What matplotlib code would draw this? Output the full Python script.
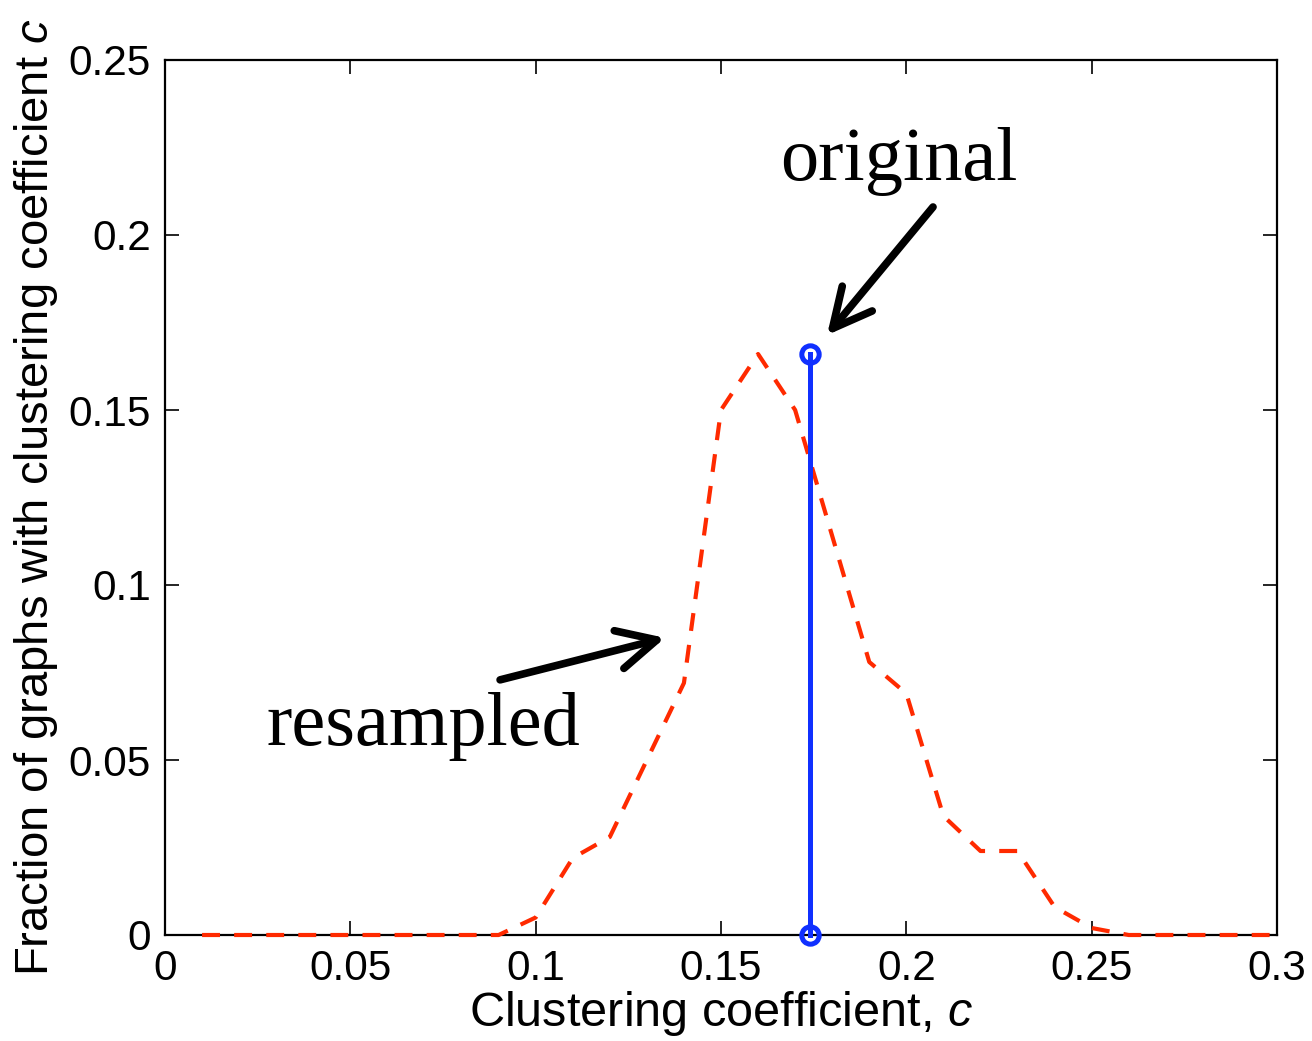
import matplotlib
matplotlib.use("Agg")
import matplotlib.pyplot as plt
from matplotlib import font_manager

# data
c_vals = [0.01, 0.02, 0.03, 0.04, 0.05, 0.06, 0.07, 0.08, 0.09, 0.10,
          0.11, 0.12, 0.13, 0.14, 0.15, 0.16, 0.17, 0.18, 0.19, 0.20,
          0.21, 0.22, 0.23, 0.24, 0.25, 0.26, 0.27, 0.28, 0.29, 0.30]
frac_resampled = [0, 0, 0, 0, 0, 0, 0, 0, 0, 0.005,
                  0.022, 0.028, 0.050, 0.072, 0.150, 0.166, 0.150, 0.114, 0.078, 0.069,
                  0.034, 0.024, 0.024, 0.008, 0.002, 0, 0, 0, 0, 0]
c_original = 0.174
frac_original = 0.166

xticks = [0, 0.05, 0.1, 0.15, 0.2, 0.25, 0.3]
xtick_labels = ["0", "0.05", "0.1", "0.15", "0.2", "0.25", "0.3"]
yticks = [0, 0.05, 0.1, 0.15, 0.2, 0.25]
ytick_labels = ["0", "0.05", "0.1", "0.15", "0.2", "0.25"]

names = {f.name for f in font_manager.fontManager.ttflist}
narrow = "Liberation Sans Narrow" if "Liberation Sans Narrow" in names else "Liberation Sans"

plt.rcParams['font.family'] = ['Liberation Sans', 'DejaVu Sans']
plt.rcParams['mathtext.fontset'] = 'custom'
plt.rcParams['mathtext.it'] = 'Liberation Sans:italic'
plt.rcParams['mathtext.rm'] = 'Liberation Sans'

fig = plt.figure(figsize=(13.12, 10.41), dpi=100)
ax = fig.add_axes([165/1312, 1 - 935/1041, 1112/1312, 875/1041])

ax.plot(c_vals, frac_resampled, color='#ff2a00', lw=3, linestyle=(0, (4.3, 3.4)),
        clip_on=False, zorder=4)
ax.plot([c_original, c_original], [0, frac_original], color='#1030ff', lw=3.6,
        marker='o', ms=12.5, mfc='none', mec='#1030ff', mew=3.6, clip_on=False, zorder=5)

ax.set_xlim(0, 0.3)
ax.set_ylim(0, 0.25)
ax.set_xticks(xticks)
ax.set_xticklabels(xtick_labels)
ax.set_yticks(yticks)
ax.set_yticklabels(ytick_labels)
ax.tick_params(direction='in', length=10, width=1.2, top=True, right=True,
               labelsize=30.5, pad=10)
for s in ax.spines.values():
    s.set_linewidth(1.6)

ax.set_xlabel("Clustering coefficient, $c$", fontsize=35, labelpad=0)
ax.set_ylabel("Fraction of graphs with clustering coefficient $c$", fontsize=34,
              family=[narrow, 'DejaVu Sans'], labelpad=6)

arrow = dict(arrowstyle='->,head_length=1.4,head_width=0.7',
             lw=5.5, color='black', mutation_scale=20, shrinkA=0, shrinkB=0)

ax.text(0.166, 0.2157, "original", fontsize=55,
        family=['Liberation Serif', 'DejaVu Serif'])
ax.annotate("", xy=(0.1786, 0.1714), xytext=(0.2072, 0.208), arrowprops=arrow)

ax.text(0.0275, 0.0543, "resampled", fontsize=55,
        family=['Liberation Serif', 'DejaVu Serif'])
ax.annotate("", xy=(0.1349, 0.0849), xytext=(0.0904, 0.0729), arrowprops=arrow)

fig.savefig("out.png", dpi=100)
